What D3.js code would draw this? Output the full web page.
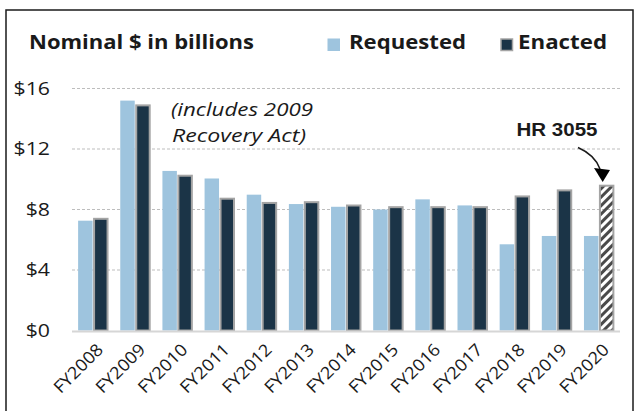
<!DOCTYPE html>
<html>
<head>
<meta charset="utf-8">
<script src="https://cdn.jsdelivr.net/npm/d3@7"></script>
<style>
  body { margin: 0; background: #fff; }
  svg { display: block; }
  text { font-family: "Open Sans", sans-serif; fill: #1a1a1a; }
</style>
</head>
<body>
<div id="chart"></div>
<script>
// fiscal years on the x axis
var categories = ["FY2008", "FY2009", "FY2010", "FY2011", "FY2012", "FY2013", "FY2014",
  "FY2015", "FY2016", "FY2017", "FY2018", "FY2019", "FY2020"];
// nominal $ in billions
var requested = [7.26, 15.2, 10.55, 10.05, 8.98, 8.36, 8.18, 8.0, 8.67, 8.27, 5.7, 6.25, 6.25];
var enacted = [7.45, 14.95, 10.3, 8.78, 8.5, 8.55, 8.33, 8.22, 8.22, 8.22, 8.93, 9.33, 9.64];
var yTicks = [0, 4, 8, 12, 16];
var seriesNames = ["Requested", "Enacted"];

var W = 642, H = 411;

var svg = d3.select("#chart").append("svg")
  .attr("width", W)
  .attr("height", H);

// hatch pattern for the pending HR 3055 bar
var defs = svg.append("defs");
defs.append("pattern")
  .attr("id", "hatch")
  .attr("patternUnits", "userSpaceOnUse")
  .attr("width", 6).attr("height", 6)
  .attr("patternTransform", "rotate(45)")
  .append("rect")
  .attr("x", 0).attr("y", 0)
  .attr("width", 3).attr("height", 6)
  .attr("fill", "#4a4a4a");

// frame
svg.append("rect")
  .attr("x", 6).attr("y", 10)
  .attr("width", 627).attr("height", 420)
  .attr("fill", "none")
  .attr("stroke", "#1a1a1a")
  .attr("stroke-width", 1.5);

// scales
var x0 = d3.scaleBand()
  .domain(categories)
  .range([72, 620])
  .paddingInner(0.29)
  .paddingOuter(0.145);

var x1 = d3.scaleBand()
  .domain(seriesNames)
  .range([0, x0.bandwidth()]);

var y = d3.scaleLinear()
  .domain([0, 16])
  .range([330.5, 88.5]);

// stretch text horizontally so it spans like the wide original font
function stretch(sel, k) {
  sel.each(function () {
    var w = this.getComputedTextLength();
    d3.select(this).attr("textLength", w * k).attr("lengthAdjust", "spacingAndGlyphs");
  });
}

// gridlines
svg.append("g")
  .selectAll("line")
  .data(yTicks.filter(function (d) { return d > 0; }))
  .join("line")
  .attr("x1", 72).attr("x2", 620)
  .attr("y1", function (d) { return y(d); })
  .attr("y2", function (d) { return y(d); })
  .attr("stroke", "#bdbdbd")
  .attr("stroke-width", 1)
  .attr("stroke-dasharray", "3,2");

// y axis labels (no domain line)
var yAxis = svg.append("g")
  .attr("transform", "translate(50,0)")
  .call(d3.axisLeft(y).tickValues(yTicks).tickSize(0).tickPadding(0)
    .tickFormat(function (d) { return "$" + d; }));
yAxis.select(".domain").remove();
yAxis.selectAll("text")
  .style("font-family", "'Open Sans', sans-serif")
  .style("font-size", "18.5px")
  .attr("fill", "#1a1a1a")
  .call(stretch, 1.15);

// bars
var groups = svg.append("g")
  .selectAll("g")
  .data(categories)
  .join("g")
  .attr("transform", function (d) { return "translate(" + x0(d) + ",0)"; });

groups.append("rect")
  .attr("x", x1("Requested"))
  .attr("width", x1.bandwidth() - 0.5)
  .attr("y", function (d, i) { return y(requested[i]); })
  .attr("height", function (d, i) { return y(0) - y(requested[i]); })
  .attr("fill", "#9ec4de");

groups.append("rect")
  .attr("x", x1("Enacted") + 1)
  .attr("width", x1.bandwidth() - 1.5)
  .attr("y", function (d, i) { return y(enacted[i]) + 1; })
  .attr("height", function (d, i) { return y(0) - y(enacted[i]) - 1; })
  .attr("fill", function (d) { return d === "FY2020" ? "url(#hatch)" : "#1b3447"; })
  .attr("stroke", "#a4a4a4")
  .attr("stroke-width", 2);

// baseline
svg.append("line")
  .attr("x1", 72).attr("x2", 620)
  .attr("y1", y(0) + 1).attr("y2", y(0) + 1)
  .attr("stroke", "#d6d6d6")
  .attr("stroke-width", 2);

// x axis labels, rotated 45 degrees
var xAxis = svg.append("g")
  .attr("transform", "translate(0," + (y(0) + 16) + ")")
  .call(d3.axisBottom(x0).tickSize(0).tickPadding(0));
xAxis.select(".domain").remove();
xAxis.selectAll("text")
  .style("font-family", "'Open Sans', sans-serif")
  .style("font-size", "17px")
  .attr("fill", "#1a1a1a")
  .attr("text-anchor", "end")
  .attr("dy", "0.35em")
  .attr("transform", "translate(7,0) rotate(-45)")
  .call(stretch, 1.08);

// title + legend
svg.append("text")
  .attr("x", 29).attr("y", 48.5)
  .attr("textLength", 225).attr("lengthAdjust", "spacingAndGlyphs")
  .style("font-size", "19px").style("font-weight", "bold")
  .text("Nominal $ in billions");

svg.append("rect")
  .attr("x", 327.5).attr("y", 38.5)
  .attr("width", 12.5).attr("height", 12.5)
  .attr("fill", "#9ec4de");
svg.append("text")
  .attr("x", 349).attr("y", 48.5)
  .attr("textLength", 117).attr("lengthAdjust", "spacingAndGlyphs")
  .style("font-size", "19px").style("font-weight", "bold")
  .text("Requested");

svg.append("rect")
  .attr("x", 501).attr("y", 39)
  .attr("width", 11.5).attr("height", 11.5)
  .attr("fill", "#1b3447")
  .attr("stroke", "#a4a4a4")
  .attr("stroke-width", 1.5);
svg.append("text")
  .attr("x", 518).attr("y", 48.5)
  .attr("textLength", 89).attr("lengthAdjust", "spacingAndGlyphs")
  .style("font-size", "19px").style("font-weight", "bold")
  .text("Enacted");

// recovery act note
var note = svg.append("text")
  .style("font-size", "17.5px").style("font-style", "italic");
note.append("tspan").attr("x", 171).attr("y", 116)
  .attr("textLength", 142).attr("lengthAdjust", "spacingAndGlyphs")
  .text("(includes 2009");
note.append("tspan").attr("x", 172).attr("y", 141.5)
  .attr("textLength", 134).attr("lengthAdjust", "spacingAndGlyphs")
  .text("Recovery Act)");

// HR 3055 callout
svg.append("text")
  .attr("x", 557).attr("y", 136)
  .attr("text-anchor", "middle")
  .attr("textLength", 81).attr("lengthAdjust", "spacingAndGlyphs")
  .style("font-family", "'Liberation Sans', Arial, sans-serif")
  .style("font-size", "19px").style("font-weight", "bold")
  .text("HR 3055");

svg.append("path")
  .attr("d", "M578,147.5 Q595,155 600,169")
  .attr("fill", "none")
  .attr("stroke", "#1a1a1a")
  .attr("stroke-width", 1.5);
svg.append("polygon")
  .attr("points", "594,168 610,170 602.7,182")
  .attr("fill", "#000");
</script>
</body>
</html>
